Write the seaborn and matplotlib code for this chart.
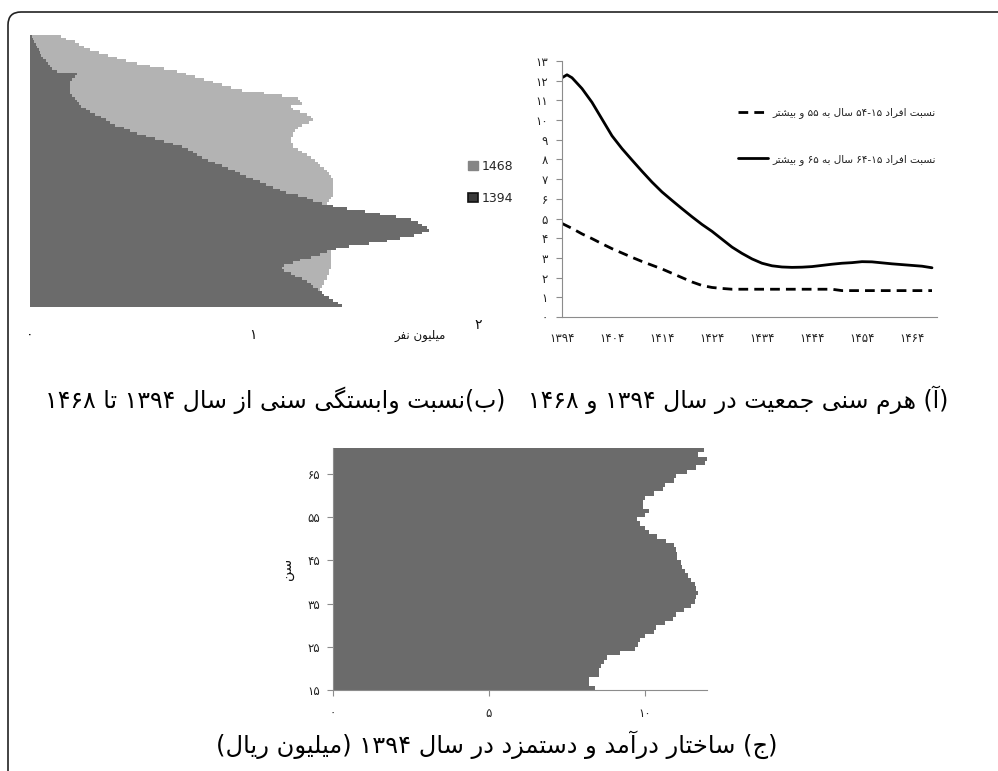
import numpy as np
import pandas as pd
import matplotlib
matplotlib.use("Agg")
import matplotlib.pyplot as plt
import seaborn as sns
from matplotlib.patches import Patch, FancyBboxPatch
from matplotlib.transforms import IdentityTransform

# ---------------- data ----------------
# Panel A: population by single age (millions), ages 0..100
ages_a = list(range(0, 101))
pop_1394 = [1.40, 1.38, 1.36, 1.34, 1.32, 1.31, 1.29, 1.27, 1.26, 1.24,
            1.22, 1.19, 1.17, 1.14, 1.13, 1.14, 1.18, 1.21, 1.26, 1.30,
            1.33, 1.37, 1.43, 1.52, 1.60, 1.66, 1.72, 1.76, 1.79, 1.78,
            1.76, 1.74, 1.71, 1.64, 1.57, 1.50, 1.42, 1.36, 1.31, 1.27,
            1.24, 1.20, 1.15, 1.12, 1.09, 1.06, 1.03, 1.00, 0.97, 0.94,
            0.92, 0.89, 0.86, 0.83, 0.80, 0.77, 0.75, 0.73, 0.71, 0.68,
            0.64, 0.60, 0.56, 0.52, 0.48, 0.45, 0.42, 0.38, 0.36, 0.34,
            0.32, 0.29, 0.27, 0.25, 0.23, 0.22, 0.21, 0.20, 0.19, 0.18,
            0.18, 0.18, 0.18, 0.18, 0.19, 0.20, 0.21, 0.12, 0.10, 0.09,
            0.08, 0.07, 0.06, 0.05, 0.045, 0.04, 0.03, 0.025, 0.02, 0.015,
            0.01]
pop_1468 = [1.27, 1.28, 1.28, 1.29, 1.29, 1.30, 1.30, 1.31, 1.32, 1.32,
            1.33, 1.33, 1.34, 1.34, 1.35, 1.35, 1.35, 1.35, 1.35, 1.35,
            1.35, 1.35, 1.35, 1.35, 1.35, 1.35, 1.34, 1.34, 1.34, 1.33,
            1.33, 1.32, 1.32, 1.31, 1.31, 1.30, 1.31, 1.32, 1.33, 1.34,
            1.35, 1.36, 1.36, 1.36, 1.36, 1.36, 1.36, 1.36, 1.35, 1.34,
            1.33, 1.32, 1.30, 1.29, 1.28, 1.26, 1.24, 1.22, 1.20, 1.18,
            1.18, 1.17, 1.17, 1.18, 1.18, 1.19, 1.20, 1.22, 1.25, 1.27,
            1.26, 1.24, 1.21, 1.18, 1.17, 1.22, 1.21, 1.20, 1.13, 1.05,
            0.95, 0.90, 0.86, 0.82, 0.78, 0.74, 0.70, 0.66, 0.60, 0.54,
            0.48, 0.43, 0.39, 0.35, 0.31, 0.27, 0.24, 0.22, 0.20, 0.16,
            0.14]
legend_a = ["1468", "1394"]
xticks_a = [0, 1]

# Panel B: dependency ratios
years_55 = [1394, 1396, 1398, 1400, 1402, 1404, 1406, 1408, 1410, 1412,
            1414, 1416, 1418, 1420, 1422, 1424, 1426, 1428, 1432, 1440,
            1448, 1450, 1458, 1468]
ratio_55 = [4.75, 4.50, 4.22, 3.98, 3.72, 3.47, 3.25, 3.03, 2.82, 2.63,
            2.44, 2.22, 2.00, 1.78, 1.60, 1.50, 1.45, 1.41, 1.41, 1.41,
            1.41, 1.34, 1.34, 1.34]
years_65 = [1394, 1395, 1396, 1398, 1400, 1402, 1404, 1406, 1408, 1410,
            1412, 1414, 1416, 1418, 1420, 1422, 1424, 1426, 1428, 1430,
            1432, 1434, 1436, 1438, 1440, 1442, 1444, 1446, 1448, 1450,
            1452, 1454, 1456, 1458, 1460, 1462, 1464, 1466, 1468]
ratio_65 = [12.15, 12.30, 12.15, 11.60, 10.90, 10.05, 9.20, 8.55, 7.97, 7.40,
            6.85, 6.35, 5.92, 5.50, 5.09, 4.70, 4.35, 3.95, 3.55, 3.23,
            2.95, 2.73, 2.60, 2.54, 2.52, 2.53, 2.56, 2.62, 2.68, 2.73,
            2.76, 2.81, 2.80, 2.75, 2.70, 2.66, 2.62, 2.58, 2.50]
xticks_b = [1394, 1404, 1414, 1424, 1434, 1444, 1454, 1464]
yticks_b = list(range(0, 14))
label_55 = "نسبت افراد ۱۵-۵۴ سال به ۵۵ و بیشتر"
label_65 = "نسبت افراد ۱۵-۶۴ سال به ۶۵ و بیشتر"

# Panel C: income by age (million rials), ages 15..70
ages_c = list(range(15, 71))
income = [8.4, 8.2, 8.2, 8.55, 8.55, 8.6, 8.7, 8.8, 9.2, 9.7,
          9.8, 9.85, 10.0, 10.3, 10.35, 10.65, 10.9, 11.0, 11.25, 11.5,
          11.6, 11.65, 11.7, 11.65, 11.6, 11.5, 11.4, 11.3, 11.2, 11.15,
          11.05, 11.05, 11.0, 10.95, 10.7, 10.4, 10.15, 10.0, 9.85, 9.75,
          10.0, 10.15, 9.95, 9.95, 10.0, 10.3, 10.6, 10.65, 10.95, 11.0,
          11.35, 11.65, 11.95, 12.0, 11.7, 11.9]
yticks_c = [15, 25, 35, 45, 55, 65]
xticks_c = [0, 5, 10]

caption_1 = "(آ) هرم سنی جمعیت در سال ۱۳۹۴ و ۱۴۶۸   (ب)نسبت وابستگی سنی از سال ۱۳۹۴ تا ۱۴۶۸"
caption_2 = "(ج) ساختار درآمد و دستمزد در سال ۱۳۹۴ (میلیون ریال)"
unit_a = "میلیون نفر"
ylabel_c = "سن"

# ---------------- Persian shaping + right-to-left ordering ----------------
FORMS = {  # isolated, final, initial, medial
    'ا': ('\uFE8D', '\uFE8E', None, None),
    'آ': ('\uFE81', '\uFE82', None, None),
    'ب': ('\uFE8F', '\uFE90', '\uFE91', '\uFE92'),
    'ت': ('\uFE95', '\uFE96', '\uFE97', '\uFE98'),
    'ج': ('\uFE9D', '\uFE9E', '\uFE9F', '\uFEA0'),
    'خ': ('\uFEA5', '\uFEA6', '\uFEA7', '\uFEA8'),
    'د': ('\uFEA9', '\uFEAA', None, None),
    'ر': ('\uFEAD', '\uFEAE', None, None),
    'ز': ('\uFEAF', '\uFEB0', None, None),
    'س': ('\uFEB1', '\uFEB2', '\uFEB3', '\uFEB4'),
    'ش': ('\uFEB5', '\uFEB6', '\uFEB7', '\uFEB8'),
    'ع': ('\uFEC9', '\uFECA', '\uFECB', '\uFECC'),
    'ف': ('\uFED1', '\uFED2', '\uFED3', '\uFED4'),
    'ل': ('\uFEDD', '\uFEDE', '\uFEDF', '\uFEE0'),
    'م': ('\uFEE1', '\uFEE2', '\uFEE3', '\uFEE4'),
    'ن': ('\uFEE5', '\uFEE6', '\uFEE7', '\uFEE8'),
    'ه': ('\uFEE9', '\uFEEA', '\uFEEB', '\uFEEC'),
    'و': ('\uFEED', '\uFEEE', None, None),
    'ی': ('\uFBFC', '\uFBFD', '\uFBFE', '\uFBFF'),
    'گ': ('\uFB92', '\uFB93', '\uFB94', '\uFB95'),
}
DIGITS = set('0123456789۰۱۲۳۴۵۶۷۸۹')
MIRROR = {'(': ')', ')': '('}


def shape_run(run):
    out = []
    for i, ch in enumerate(run):
        f = FORMS[ch]
        prev_joins = i > 0 and FORMS[run[i - 1]][2] is not None
        next_joins = i < len(run) - 1 and f[2] is not None
        if prev_joins and next_joins:
            g = f[3]
        elif prev_joins:
            g = f[1]
        elif next_joins:
            g = f[2]
        else:
            g = f[0]
        out.append(g)
    return ''.join(reversed(out))


def fa(text):
    """Return the visual (left-to-right glyph) order of an RTL Persian string."""
    tokens = []
    for ch in text:
        t = 'L' if ch in FORMS else ('D' if ch in DIGITS else 'N')
        if tokens and tokens[-1][0] == t and t != 'N':
            tokens[-1][1] += ch
        else:
            tokens.append([t, ch])
    out = []
    for t, s in reversed(tokens):
        if t == 'L':
            out.append(shape_run(s))
        elif t == 'D':
            out.append(s)
        else:
            out.append(MIRROR.get(s, s))
    return ''.join(out)


def fd(n):
    return str(n).translate(str.maketrans('0123456789', '۰۱۲۳۴۵۶۷۸۹'))


# ---------------- figure ----------------
sns.set_style("white")
plt.rcParams['font.family'] = ['DejaVu Sans']

W, H = 998, 771
fig = plt.figure(figsize=(W / 100, H / 100), dpi=100)


def px_axes(l, t, r, b):
    return fig.add_axes([l / W, 1 - b / H, (r - l) / W, (b - t) / H])


DARK = '#6b6b6b'
LIGHT = '#b3b3b3'
AXC = '#8c8c8c'

# ---- Panel A ----
axA = px_axes(30, 35, 476, 307)
dfA = pd.DataFrame({'age': ages_a, 'p1468': pop_1468, 'p1394': pop_1394})
order_a = ages_a[::-1]
sns.barplot(data=dfA, x='p1468', y='age', orient='h', order=order_a,
            color=LIGHT, width=1.0, saturation=1, linewidth=0,
            errorbar=None, ax=axA)
sns.barplot(data=dfA, x='p1394', y='age', orient='h', order=order_a,
            color=DARK, width=1.0, saturation=1, linewidth=0,
            errorbar=None, ax=axA)
axA.set_xlim(0, 2)
axA.set_xticks(xticks_a, [fd(v) for v in xticks_a])
axA.set_yticks([])
axA.set_xlabel('')
axA.set_ylabel('')
axA.tick_params(axis='x', length=0, pad=15, labelsize=10, labelcolor='#111')
sns.despine(ax=axA, left=True, bottom=True)
fig.text(478 / W, 1 - 325 / H, fd(2), ha='center', va='center', fontsize=10, color='#111')
fig.text(420 / W, 1 - 335 / H, fa(unit_a), ha='center', va='center', fontsize=8.5, color='#111')

fig.legend(handles=[Patch(fc='#858585', ec='#858585'),
                    Patch(fc='#3a3a3a', ec='#111111', lw=1.2)],
           labels=legend_a, loc='upper left',
           bbox_to_anchor=(457 / W, 1 - 149 / H), frameon=False,
           handlelength=0.75, handleheight=0.75, handletextpad=0.35,
           labelspacing=1.5, fontsize=9)

# ---- Panel B ----
axB = px_axes(562, 61, 937, 317)
sns.lineplot(x=years_55, y=ratio_55, ax=axB, color='black', lw=2,
             label=fa(label_55))
axB.lines[-1].set_dashes((3.5, 2.2))
sns.lineplot(x=years_65, y=ratio_65, ax=axB, color='black', lw=2,
             label=fa(label_65))
axB.set_xlim(1394, 1469)
axB.set_ylim(0, 13)
axB.set_xticks(xticks_b, [fd(v) for v in xticks_b])
axB.set_yticks(yticks_b, [fd(v) for v in yticks_b])
sns.despine(ax=axB)
for s in ('left', 'bottom'):
    axB.spines[s].set_color(AXC)
    axB.spines[s].set_linewidth(0.8)
axB.tick_params(axis='x', length=0, pad=11, labelsize=8.5, labelcolor='#222')
axB.tick_params(axis='y', direction='out', length=4, width=0.8, color=AXC,
                pad=6, labelsize=8.5, labelcolor='#222', left=True)
leg = axB.legend(loc='upper left', bbox_to_anchor=(729 / W, 1 - 98 / H),
                 bbox_transform=fig.transFigure, frameon=False,
                 handlelength=2.8, handletextpad=0.5, labelspacing=3.4,
                 fontsize=7.5)
for t in leg.get_texts():
    t.set_color('#222')

# ---- Panel C ----
axC = px_axes(333, 448, 707, 690)
dfC = pd.DataFrame({'age': ages_c, 'income': income})
order_c = ages_c[::-1]
sns.barplot(data=dfC, x='income', y='age', orient='h', order=order_c,
            color=DARK, width=1.0, saturation=1, linewidth=0,
            errorbar=None, ax=axC)
axC.set_xlim(0, 12)
axC.set_ylim(len(ages_c) - 0.5, -0.5)
ypos = [ages_c[-1] - a + 0.5 for a in yticks_c]
axC.set_yticks(ypos, [fd(a) for a in yticks_c])
axC.set_xticks(xticks_c, [fd(v) for v in xticks_c])
axC.set_xlabel('')
axC.set_ylabel(fa(ylabel_c), fontsize=10, labelpad=10, color='#111')
sns.despine(ax=axC)
for s in ('left', 'bottom'):
    axC.spines[s].set_color(AXC)
    axC.spines[s].set_linewidth(0.8)
axC.tick_params(axis='both', direction='out', length=4, width=0.8,
                color=AXC, labelsize=8.5, labelcolor='#222', left=True, bottom=True)
axC.tick_params(axis='x', pad=8)
axC.tick_params(axis='y', pad=5)

# ---- captions ----
fig.text(497 / W, 1 - 400 / H, fa(caption_1), ha='center', va='center',
         fontsize=17, color='black')
fig.text(497 / W, 1 - 745 / H, fa(caption_2), ha='center', va='center',
         fontsize=17.4, color='black')

# ---- frame ----
frame = FancyBboxPatch((8, -30), 1030, H - 12 + 30,
                       boxstyle="round,pad=0,rounding_size=13",
                       transform=IdentityTransform(), fill=False,
                       lw=1.2, ec='#222222')
fig.add_artist(frame)

fig.savefig('out.png', dpi=100)
